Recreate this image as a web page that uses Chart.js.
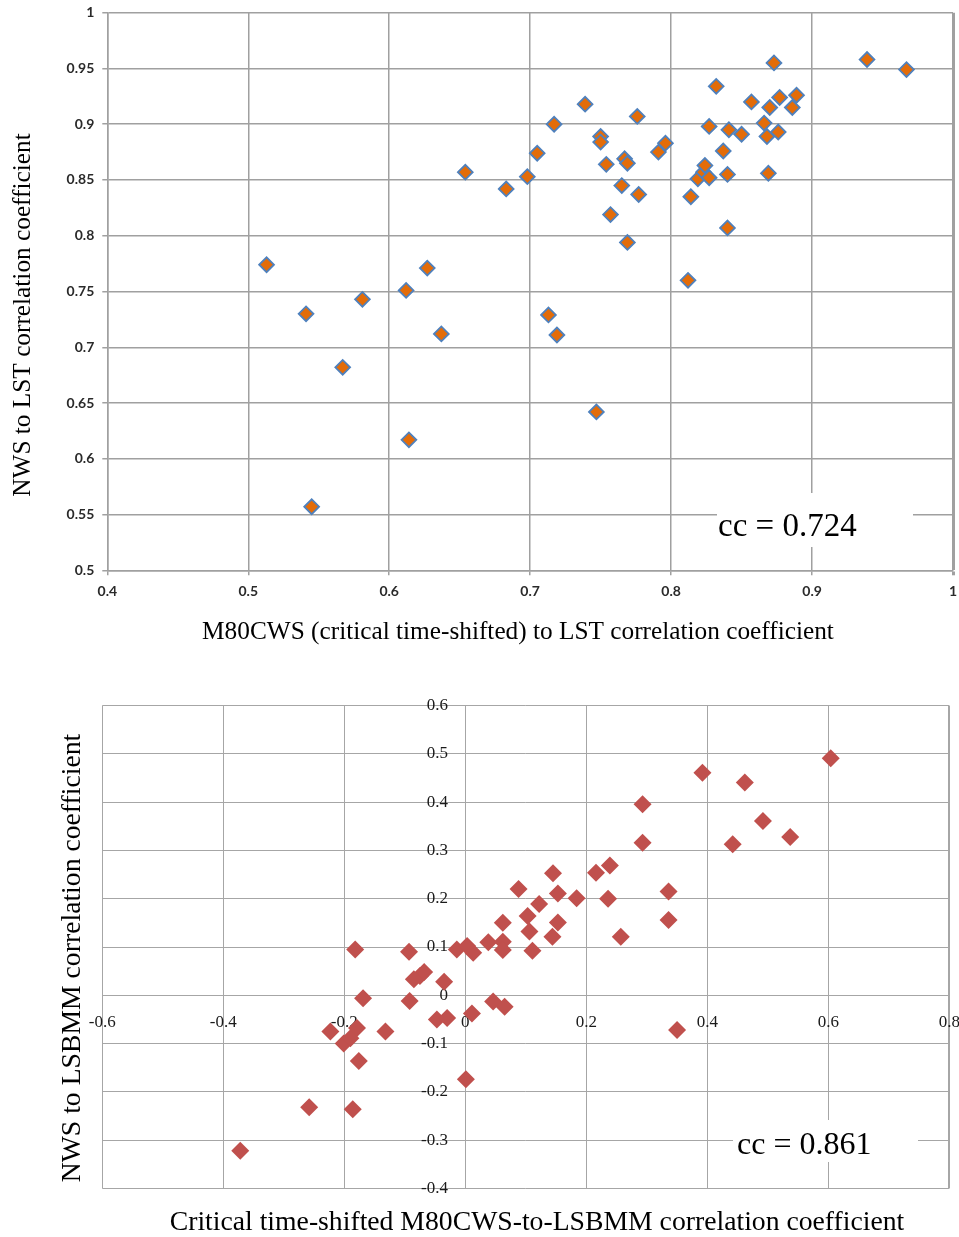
<!DOCTYPE html>
<html>
<head>
<meta charset="utf-8">
<title>NWS correlation scatter plots</title>
<script src="https://cdn.jsdelivr.net/npm/chart.js@4.4.0/dist/chart.umd.min.js"></script>
<style>
  html, body { margin: 0; padding: 0; background: #fff; }
  body { width: 959px; height: 1237px; position: relative; overflow: hidden; }
  canvas { position: absolute; left: 0; }
  #chartLST { top: 0; }
  #chartLSBMM { top: 660px; }
</style>
</head>
<body>
<canvas id="chartLST" width="959" height="660"></canvas>
<canvas id="chartLSBMM" width="959" height="577"></canvas>
<script>
// ── Upper panel: M80CWS vs NWS correlation with LST ─────────────────────────
const lstX = [0.513, 0.541, 0.545, 0.567, 0.581, 0.612, 0.614, 0.627, 0.637, 0.654,
              0.683, 0.698, 0.705, 0.713, 0.717, 0.719, 0.739, 0.747, 0.750, 0.750,
              0.754, 0.757, 0.765, 0.767, 0.769, 0.769, 0.776, 0.777, 0.791, 0.796,
              0.812, 0.814, 0.819, 0.823, 0.824, 0.827, 0.827, 0.832, 0.837, 0.840,
              0.840, 0.841, 0.850, 0.857, 0.866, 0.868, 0.869, 0.870, 0.873, 0.876,
              0.877, 0.886, 0.889, 0.939, 0.967];
const lstY = [0.774, 0.730, 0.557, 0.682, 0.743, 0.751, 0.617, 0.771, 0.712, 0.857,
              0.842, 0.853, 0.874, 0.729, 0.900, 0.711, 0.918, 0.642, 0.889, 0.884,
              0.864, 0.819, 0.845, 0.869, 0.865, 0.794, 0.907, 0.837, 0.875, 0.883,
              0.760, 0.835, 0.851, 0.857, 0.863, 0.852, 0.898, 0.934, 0.876, 0.855,
              0.807, 0.895, 0.891, 0.920, 0.901, 0.889, 0.856, 0.915, 0.955, 0.893,
              0.924, 0.915, 0.926, 0.958, 0.949];
const lstXTicks = [0.4, 0.5, 0.6, 0.7, 0.8, 0.9, 1];
const lstYTicks = [0.5, 0.55, 0.6, 0.65, 0.7, 0.75, 0.8, 0.85, 0.9, 0.95, 1];
const lstCC = 'cc = 0.724';

// ── Lower panel: time-shifted M80CWS vs NWS correlation with LSBMM ──────────
const lsbmmX = [-0.372, -0.258, -0.186, -0.176, -0.223, -0.201, -0.190, -0.179, -0.132, -0.169,
                -0.182, -0.092, -0.093, -0.085, -0.075, -0.068, -0.035, -0.047, -0.030, -0.014,
                 0.003,  0.013,  0.001,  0.011,  0.046,  0.065,  0.038,  0.062,  0.062,  0.062,
                 0.088,  0.103,  0.106,  0.111,  0.122,  0.145,  0.144,  0.153,  0.153,  0.184,
                 0.216,  0.239,  0.236,  0.257,  0.293,  0.293,  0.336,  0.336,  0.350,  0.392,
                 0.442,  0.462,  0.492,  0.537,  0.604];
const lsbmmY = [-0.322, -0.232, -0.236, -0.136, -0.075, -0.100, -0.089, -0.068, -0.075, -0.006,
                 0.095, -0.012,  0.090,  0.033,  0.040,  0.048,  0.028, -0.050, -0.047,  0.095,
                 0.102,  0.088, -0.174, -0.038, -0.013, -0.024,  0.110,  0.111,  0.094,  0.150,
                 0.220,  0.164,  0.132,  0.092,  0.189,  0.253,  0.121,  0.211,  0.151,  0.201,
                 0.254,  0.269,  0.200,  0.121,  0.396,  0.316,  0.215,  0.156, -0.072,  0.461,
                 0.313,  0.441,  0.361,  0.328,  0.491];
const lsbmmXTicks = [-0.6, -0.4, -0.2, 0, 0.2, 0.4, 0.6, 0.8];
const lsbmmYTicks = [-0.4, -0.3, -0.2, -0.1, 0, 0.1, 0.2, 0.3, 0.4, 0.5, 0.6];
const lsbmmCC = 'cc = 0.861';

const toPoints = (xs, ys) => xs.map((x, i) => ({ x, y: ys[i] }));
const fmt = v => String(Math.round(v * 100) / 100);
const fixedTicks = list => s => { s.ticks = list.map(value => ({ value })); };
// keep the plot area where the layout padding puts it (no room reserved for edge labels)
const noEdgePadding = s => { s.paddingLeft = s.paddingRight = s.paddingTop = s.paddingBottom = 0; };

// axis titles + the white "cc = ..." box, drawn on top of the plot
const captions = {
  id: 'captions',
  afterDraw(chart, args, o) {
    const ctx = chart.ctx;
    ctx.save();
    ctx.fillStyle = '#000';
    ctx.textBaseline = 'alphabetic';
    ctx.font = o.titleFont;
    ctx.textAlign = 'center';
    ctx.fillText(o.xTitle, o.xTitleAt[0], o.xTitleAt[1]);
    ctx.save();
    ctx.translate(o.yTitleAt[0], o.yTitleAt[1]);
    ctx.rotate(-Math.PI / 2);
    ctx.fillText(o.yTitle, 0, 0);
    ctx.restore();

    const [bx, by, bw, bh] = o.ccBox;
    ctx.fillStyle = '#fff';
    ctx.fillRect(bx, by, bw, bh);
    ctx.fillStyle = '#000';
    ctx.font = o.ccFont;
    ctx.textAlign = 'left';
    ctx.fillText(o.ccText, o.ccAt[0], o.ccAt[1]);
    ctx.restore();
  }
};

// upper chart
new Chart(document.getElementById('chartLST'), {
  type: 'scatter',
  data: {
    datasets: [{
      data: toPoints(lstX, lstY),
      pointStyle: 'rectRot',
      pointRadius: 7.4,
      pointHoverRadius: 7.4,
      backgroundColor: '#e36c09',
      borderColor: '#4f81bd',
      borderWidth: 1.8
    }]
  },
  options: {
    responsive: false,
    animation: false,
    layout: { autoPadding: false, padding: { top: 12.7, right: 6, left: 0, bottom: 0 } },
    plugins: {
      legend: { display: false },
      tooltip: { enabled: false },
      captions: {
        titleFont: '25.3px "Liberation Serif"',
        xTitle: 'M80CWS (critical time-shifted) to LST correlation coefficient',
        xTitleAt: [518, 639],
        yTitle: 'NWS to LST correlation coefficient',
        yTitleAt: [30, 315],
        ccBox: [717, 493, 196, 54],
        ccFont: '33px "Liberation Serif"',
        ccText: lstCC,
        ccAt: [718, 536]
      }
    },
    scales: {
      x: {
        type: 'linear', min: 0.4, max: 1,
        afterBuildTicks: fixedTicks(lstXTicks),
        afterFit: s => { noEdgePadding(s); s.height = 89.7; },
        grid: {
          color: '#a0a0a0',
          lineWidth: c => (c.tick && c.tick.value === 1 ? 3 : 1.5),
          tickLength: 5
        },
        border: { color: '#a0a0a0', width: 1.5 },
        ticks: {
          font: { family: 'Lato', weight: 'bold', size: 14 },
          color: '#2a2a2a', padding: 8, maxRotation: 0, autoSkip: false,
          callback: v => fmt(v)
        }
      },
      y: {
        type: 'linear', min: 0.5, max: 1,
        afterBuildTicks: fixedTicks(lstYTicks),
        afterFit: s => { noEdgePadding(s); s.width = 107.3; },
        grid: { color: '#a0a0a0', lineWidth: 1.5, tickLength: 5 },
        border: { color: '#a0a0a0', width: 1.5 },
        ticks: {
          font: { family: 'Lato', weight: 'bold', size: 14 },
          color: '#2a2a2a', padding: 8, autoSkip: false,
          callback: v => fmt(v)
        }
      }
    }
  },
  plugins: [captions]
});

// lower chart, axes crossing at the origin
new Chart(document.getElementById('chartLSBMM'), {
  type: 'scatter',
  data: {
    datasets: [{
      data: toPoints(lsbmmX, lsbmmY),
      pointStyle: 'rectRot',
      pointRadius: 9,
      pointHoverRadius: 9,
      backgroundColor: '#c0504d',
      borderWidth: 0
    }]
  },
  options: {
    responsive: false,
    animation: false,
    layout: { autoPadding: false, padding: { left: 102.3, top: 45.7, right: 9.7, bottom: 48.7 } },
    plugins: {
      legend: { display: false },
      tooltip: { enabled: false },
      captions: {
        titleFont: '27.7px "Liberation Serif"',
        xTitle: 'Critical time-shifted M80CWS-to-LSBMM correlation coefficient',
        xTitleAt: [537, 570],
        yTitle: 'NWS to LSBMM correlation coefficient',
        yTitleAt: [79.5, 298],
        ccBox: [733, 460, 185, 42],
        ccFont: '32px "Liberation Serif"',
        ccText: lsbmmCC,
        ccAt: [737, 494]
      }
    },
    scales: {
      x: {
        type: 'linear', min: -0.6, max: 0.8,
        position: { y: 0 },
        afterBuildTicks: fixedTicks(lsbmmXTicks),
        afterFit: noEdgePadding,
        grid: {
          color: '#a6a6a6',
          lineWidth: c => (c.tick && c.tick.value === 0.8 ? 2 : 1),
          tickLength: 8
        },
        border: { color: '#a6a6a6', width: 1 },
        ticks: {
          font: { family: 'Liberation Serif', size: 17 },
          color: '#1a1a1a', padding: 9, maxRotation: 0, autoSkip: false,
          callback: v => fmt(v)
        }
      },
      y: {
        type: 'linear', min: -0.4, max: 0.6,
        // anchored a little left of x = 0 so the labels clear the vertical zero line
        // (that line itself comes from the x grid)
        position: { x: -0.0286 },
        afterBuildTicks: fixedTicks(lsbmmYTicks),
        afterFit: noEdgePadding,
        grid: { color: '#a6a6a6', lineWidth: 1, drawTicks: false },
        border: { display: false },
        ticks: {
          font: { family: 'Liberation Serif', size: 17 },
          color: '#1a1a1a', padding: 0, autoSkip: false,
          callback: v => fmt(v)
        }
      }
    }
  },
  plugins: [captions]
});
</script>
</body>
</html>
